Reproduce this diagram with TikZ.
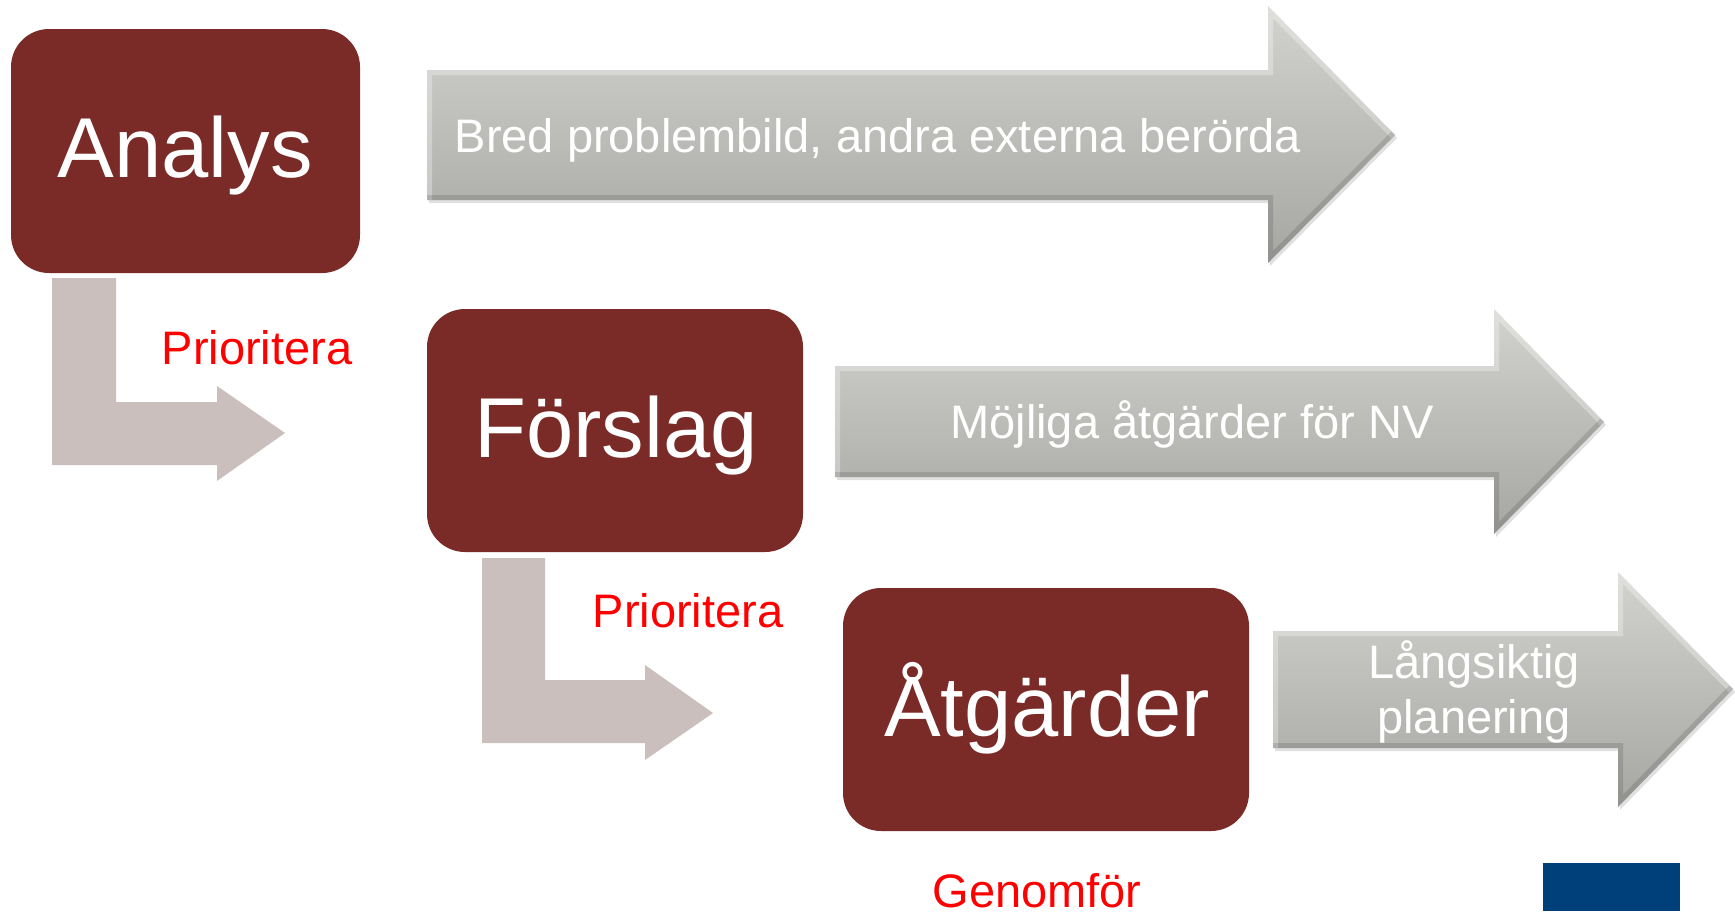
\documentclass[tikz,border=0pt]{standalone}
\usepackage{fontspec}
\setmainfont{Liberation Sans}
\definecolor{boxred}{HTML}{7B2B27}
\definecolor{lgray}{HTML}{CBBFBE}
\definecolor{navy}{HTML}{00407A}
\definecolor{gtop}{HTML}{D2D2CE}
\definecolor{gbot}{HTML}{A6A6A3}
\tikzset{
  stagebox/.style={fill=boxred, rounded corners=38pt},
  stagetext/.style={text=white, font=\fontsize{85}{90}\selectfont, anchor=base, inner sep=0pt},
  arrowtext/.style={text=white, font=\fontsize{47}{56}\selectfont, anchor=base, inner sep=0pt},
  redtext/.style={text=red, font=\fontsize{47}{50}\selectfont, anchor=base, inner sep=0pt},
  grayarrow/.style={top color=gtop, bottom color=gbot},
  grayshadow/.style={fill=black, opacity=0.12},
  bevellight/.style={white, opacity=0.3, line width=10pt, line join=miter},
  beveldark/.style={black, opacity=0.12, line width=10pt, line join=miter},
  larrow/.style={fill=lgray},
}
% #1 x0, #2 ytop, #3 ybot, #4 head x, #5 head top, #6 head bottom, #7 tip x, #8 tip y
\newcommand{\bevelarrow}[8]{%
  \fill[grayshadow, xshift=2pt, yshift=-3pt] (#1,#2) -- (#4,#2) -- (#4,#5) -- (#7,#8) -- (#4,#6) -- (#4,#3) -- (#1,#3) -- cycle;
  \path[grayarrow] (#1,#2) -- (#4,#2) -- (#4,#5) -- (#7,#8) -- (#4,#6) -- (#4,#3) -- (#1,#3) -- cycle;
  \begin{scope}
    \clip (#1,#2) -- (#4,#2) -- (#4,#5) -- (#7,#8) -- (#4,#6) -- (#4,#3) -- (#1,#3) -- cycle;
    \draw[bevellight] (#1,#3) -- (#1,#2) -- (#4,#2) -- (#4,#5) -- (#7,#8);
    \draw[beveldark] (#7,#8) -- (#4,#6) -- (#4,#3) -- (#1,#3);
  \end{scope}}
\begin{document}
\begin{tikzpicture}[x=1pt,y=-1pt]
\useasboundingbox (0,0) rectangle (1735,911);
\fill[white] (0,0) rectangle (1735,911);

% stage boxes
\fill[stagebox] (11,29) rectangle (360,273);
\fill[stagebox] (427,309) rectangle (803,552);
\fill[stagebox] (843,588) rectangle (1249,831);
\node[stagetext] (analys) at (185,177) {Analys};
\node[stagetext] (forslag) at (616,457) {Förslag};
\node[stagetext] (atgarder) at (1047,736) {Åtgärder};

% gray arrows
\bevelarrow{427}{70}{200}{1268}{6}{263}{1395}{135}
\bevelarrow{835}{366}{477}{1494}{309}{534}{1604}{422}
\bevelarrow{1273}{631}{748}{1618}{572}{807}{1733}{689}
\node[arrowtext] (bred) at (878,152) {Bred problembild, andra externa berörda};
\node[arrowtext] (mojliga) at (1192,438) {Möjliga åtgärder för NV};
\node[arrowtext] (lang1) at (1474,678) {Långsiktig};
\node[arrowtext] (lang2) at (1474,733) {planering};

% L arrows
\fill[larrow] (52,278) -- (116,278) -- (116,402) -- (217,402) -- (217,386) -- (285,433) -- (217,481) -- (217,465) -- (52,465) -- cycle;
\fill[larrow] (482,558) -- (545,558) -- (545,680) -- (645,680) -- (645,665) -- (713,713) -- (645,760) -- (645,743) -- (482,743) -- cycle;

% red labels
\node[redtext] (prio1) at (257,364) {Prioritera};
\node[redtext] (prio2) at (688,627) {Prioritera};
\node[redtext] (genom) at (1037,907) {Genomför};

% blue block
\fill[navy] (1543,863) rectangle (1680,911);
\end{tikzpicture}
\end{document}
